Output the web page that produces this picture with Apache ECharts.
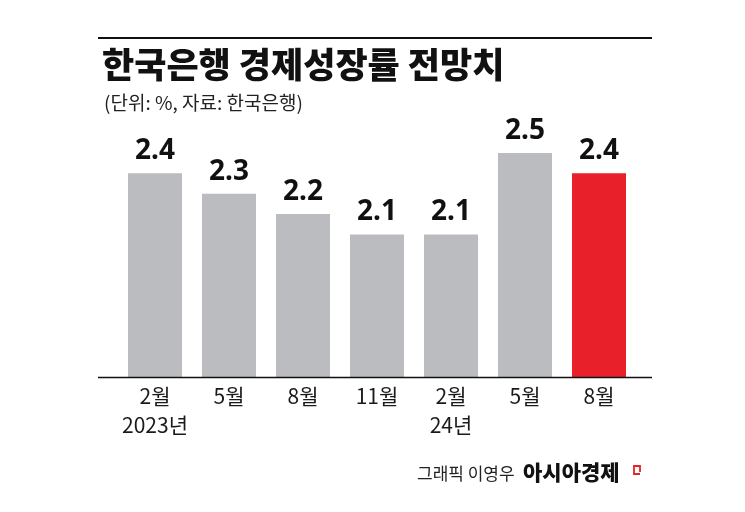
<!DOCTYPE html>
<html><head><meta charset="utf-8">
<script src="https://cdn.jsdelivr.net/npm/echarts@6/dist/echarts.min.js"></script>
<style>html,body{margin:0;padding:0;background:#fff;}#c{width:745px;height:512px;}</style>
</head><body><div id="c"></div>
<script>
const categories = ['2월\n2023년', '5월', '8월', '11월', '2월\n24년', '5월', '8월'];
const values = [2.4, 2.3, 2.2, 2.1, 2.1, 2.5, 2.4];
const highlightIndex = 6;
const titleText = '한국은행 경제성장률 전망치';
const subText = '(단위: %, 자료: 한국은행)';
const creditText = '그래픽 이영우';
const brandText = '아시아경제';

const KR = '"Noto Sans CJK KR", "Noto Sans", sans-serif';
const chart = echarts.init(document.getElementById('c'), null, {renderer: 'canvas'});
chart.setOption({
  backgroundColor: '#ffffff',
  animation: false,
  title: [
    {text: titleText, left: 97, top: 42, textStyle: {fontFamily: KR, fontSize: 35, fontWeight: 900, color: '#111'}},
    {text: subText, left: 99, top: 88, textStyle: {fontFamily: KR, fontSize: 19, fontWeight: 'normal', color: '#222'}}
  ],
  grid: {left: 118, right: 109, top: 153, bottom: 135},
  xAxis: {
    type: 'category', data: categories,
    axisLine: {show: false}, axisTick: {show: false},
    axisLabel: {fontFamily: KR, fontSize: 21, color: '#1a1a1a', lineHeight: 29, margin: 5, interval: 0}
  },
  yAxis: {type: 'value', min: 1.4, max: 2.5, show: false, splitLine: {show: false}},
  series: [{
    type: 'bar', barWidth: 54,
    data: values.map((v, i) => ({value: v, itemStyle: {color: i === highlightIndex ? '#e8202a' : '#bbbcbf'}})),
    label: {show: true, position: 'top', distance: 8, fontFamily: '"Noto Sans", sans-serif', fontSize: 28, fontWeight: 'bold', color: '#111'}
  }],
  graphic: [
    {type: 'line', shape: {x1: 98, y1: 38, x2: 652, y2: 38}, style: {stroke: '#111', lineWidth: 2}},
    {type: 'line', shape: {x1: 98, y1: 377.5, x2: 652, y2: 377.5}, style: {stroke: '#111', lineWidth: 1.5}, z: 10},
    {type: 'text', left: 417, top: 465, style: {text: creditText, font: '17px ' + KR, fill: '#222'}},
    {type: 'text', left: 523, top: 462, style: {text: brandText, font: '900 21px ' + KR, fill: '#111'}},
    {type: 'polyline', shape: {points: [[640, 472], [640, 466], [634, 466], [634, 474], [640, 474]]}, style: {stroke: '#e8202a', lineWidth: 1.8, fill: null}}
  ]
});
</script></body></html>
